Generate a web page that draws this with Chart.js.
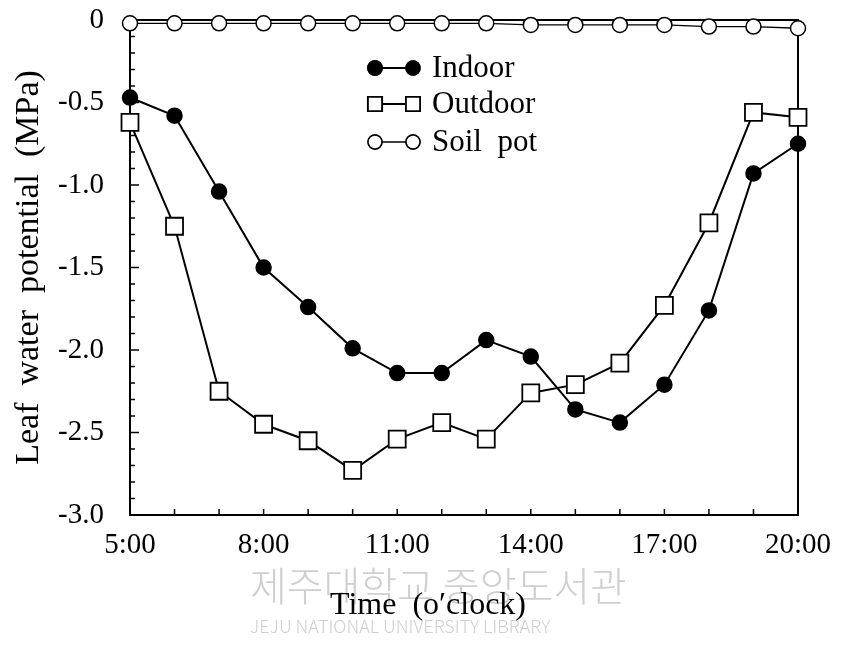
<!DOCTYPE html>
<html><head><meta charset="utf-8">
<script src="https://cdn.jsdelivr.net/npm/chart.js@4/dist/chart.umd.min.js"></script>
<style>html,body{margin:0;padding:0;background:#fff}#wrap{width:842px;height:646px}</style>
</head><body><div id="wrap"><canvas id="c" width="842" height="646"></canvas></div>
<script>
const hours = [5,6,7,8,9,10,11,12,13,14,15,16,17,18,19,20];
const indoor  = [-0.47,-0.58,-1.04,-1.50,-1.74,-1.99,-2.14,-2.14,-1.94,-2.04,-2.36,-2.44,-2.21,-1.76,-0.93,-0.75];
const outdoor = [-0.62,-1.25,-2.25,-2.45,-2.55,-2.73,-2.54,-2.44,-2.54,-2.26,-2.21,-2.08,-1.73,-1.23,-0.56,-0.59];
const soilPot = [-0.02,-0.02,-0.02,-0.02,-0.02,-0.02,-0.02,-0.02,-0.02,-0.03,-0.03,-0.03,-0.03,-0.04,-0.04,-0.05];
const seriesNames = ['Indoor','Outdoor','Soil  pot'];
const xTickHours  = [5,8,11,14,17,20];
const xTickLabels = ['5:00','8:00','11:00','14:00','17:00','20:00'];
const yTickValues = [-3.0,-2.5,-2.0,-1.5,-1.0,-0.5,0];
const yTickLabels = ['-3.0','-2.5','-2.0','-1.5','-1.0','-0.5','0'];
const xTitle = 'Time  (o\u2032clock)';
const yTitle = 'Leaf  water  potential  (MPa)';
const watermarkKo = '제주대학교 중앙도서관';
const watermarkEn = 'JEJU NATIONAL UNIVERSITY LIBRARY';

const SERIF = '"Liberation Serif", "DejaVu Serif", serif';

function toPts(ys){ return hours.map((h,i)=>({x:h,y:ys[i]})); }

const framePlugin = {
  id:'frame',
  beforeDatasetsDraw(chart){
    const {ctx, chartArea:a, scales:{x,y}} = chart;
    ctx.save();
    ctx.strokeStyle='#000'; ctx.lineWidth=2;
    ctx.strokeRect(a.left, a.top, a.right-a.left, a.bottom-a.top);
    ctx.lineWidth=1.5;
    y.ticks.forEach(t=>{
      const py = y.getPixelForValue(t.value);
      const major = Math.abs(t.value*2 - Math.round(t.value*2))<1e-6;
      ctx.beginPath(); ctx.moveTo(a.left, py); ctx.lineTo(a.left+(major?9:5), py); ctx.stroke();
    });
    x.ticks.forEach(t=>{
      const px = x.getPixelForValue(t.value);
      ctx.beginPath(); ctx.moveTo(px, a.bottom); ctx.lineTo(px, a.bottom-6); ctx.stroke();
    });
    ctx.restore();
  },
  afterDraw(chart){
    const {ctx} = chart;
    ctx.save();
    // watermark
    ctx.fillStyle='rgba(160,160,160,0.5)';
    ctx.textAlign='left'; ctx.textBaseline='middle';
    ctx.font = '300 40px "Noto Sans CJK KR"';
    ctx.fillText(watermarkKo, 250, 586);
    ctx.font = '300 18px "Noto Sans CJK KR"';
    ctx.fillText(watermarkEn, 250, 626);
    // x title
    ctx.fillStyle='#000';
    ctx.font = '32px '+SERIF;
    ctx.textAlign='center';
    ctx.fillText(xTitle, 428, 606);
    // legend
    const rows=[68,104,142];
    chart.data.datasets.forEach((ds,i)=>{
      const yy=rows[i];
      const x1=375, x2=413;
      ctx.strokeStyle='#000'; ctx.lineWidth=ds.borderWidth;
      ctx.beginPath(); ctx.moveTo(x1,yy); ctx.lineTo(x2,yy); ctx.stroke();
      [x1,x2].forEach(px=>{
        const r = ds.pointStyle==='rect' ? 10 : 7;
        Chart.helpers.drawPoint(ctx,{pointStyle:ds.pointStyle,radius:r,borderWidth:ds.pointBorderWidth,rotation:0},px,yy);
        ctx.fillStyle=ds.pointBackgroundColor; ctx.strokeStyle='#000'; ctx.lineWidth=ds.pointBorderWidth;
        ctx.fill(); ctx.stroke();
      });
      ctx.fillStyle='#000';
      ctx.font='31px '+SERIF; ctx.textAlign='left'; ctx.textBaseline='middle';
      ctx.fillText(ds.label, 432, yy+1);
    });
    ctx.restore();
  }
};

new Chart(document.getElementById('c'), {
  type:'line',
  data:{datasets:[
    {label:seriesNames[0], data:toPts(indoor), borderColor:'#000', borderWidth:2, clip:false,
     pointStyle:'circle', pointRadius:7.5, pointBackgroundColor:'#000', pointBorderColor:'#000', pointBorderWidth:1.5},
    {label:seriesNames[1], data:toPts(outdoor), borderColor:'#000', borderWidth:2, clip:false,
     pointStyle:'rect', pointRadius:12, pointBackgroundColor:'#fff', pointBorderColor:'#000', pointBorderWidth:1.8},
    {label:seriesNames[2], data:toPts(soilPot), borderColor:'#000', borderWidth:1.3, clip:false,
     pointStyle:'circle', pointRadius:7.5, pointBackgroundColor:'#fff', pointBorderColor:'#000', pointBorderWidth:1.5}
  ]},
  options:{
    responsive:false, animation:false, devicePixelRatio:1,
    layout:{padding:{top:20,right:44,left:9,bottom:0}},
    plugins:{legend:{display:false}, tooltip:{enabled:false}},
    scales:{
      x:{type:'linear', min:5, max:20,
         grid:{display:false}, border:{display:false},
         afterFit(s){ s.height = 131; s.paddingLeft = 0; s.paddingRight = 0; },
         afterBuildTicks(s){ s.ticks = hours.map(h=>({value:h})); },
         ticks:{autoSkip:false, maxRotation:0, padding:5, color:'#000', font:{family:SERIF, size:29},
           callback(v){ const k = xTickHours.indexOf(v); return k>=0 ? xTickLabels[k] : ''; }}
      },
      y:{type:'linear', min:-3, max:0,
         grid:{display:false}, border:{display:false},
         afterFit(s){ s.width = 121; s.paddingTop = 0; s.paddingBottom = 0; },
         afterBuildTicks(s){ const t=[]; for(let i=0;i<=30;i++){ t.push({value: Math.round((-3+i*0.1)*10)/10}); } s.ticks=t; },
         title:{display:true, text:yTitle, color:'#000', font:{family:SERIF, size:34}, padding:{top:0,bottom:0}},
         ticks:{autoSkip:false, padding:18, color:'#000', font:{family:SERIF, size:29},
           callback(v){ const k = yTickValues.findIndex(t=>Math.abs(t-v)<1e-6); return k>=0 ? yTickLabels[k] : ''; }}
      }
    }
  },
  plugins:[framePlugin]
});
</script>
</body></html>
